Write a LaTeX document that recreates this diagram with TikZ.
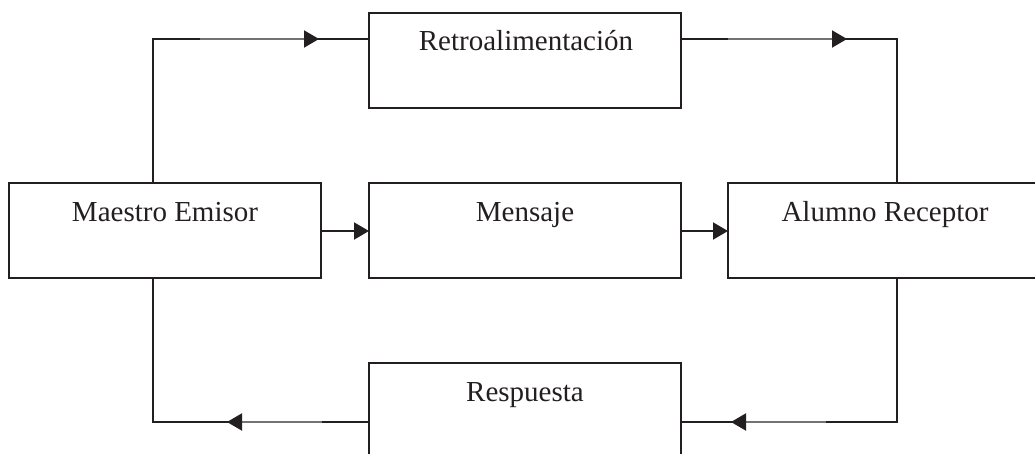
\documentclass[tikz,border=0pt]{standalone}
\usepackage{fontspec}
\setmainfont{Liberation Serif}
\usetikzlibrary{arrows.meta,calc}
\definecolor{ink}{RGB}{35,31,32}
\begin{document}
\begin{tikzpicture}[x=1pt,y=-1pt,
  box/.style={draw=ink, line width=2.2pt, minimum width=312pt, minimum height=95pt, inner sep=0pt, outer sep=0pt},
  lab/.style={font=\fontsize{29}{34}\selectfont, text=ink, anchor=base, inner sep=0pt},
  conn/.style={line width=2pt, draw=ink},
  tip/.style={-{Triangle[length=15pt,width=17pt]}},
  glint/.style={line width=2.2pt, draw=black!55}]
\useasboundingbox (0,0) rectangle (1035,454);
\clip (0,0) rectangle (1035,454);
% boxes
\node[box] (retro) at (525,60.5) {};
\node[box] (me)    at (165,230.5) {};
\node[box] (msg)   at (525,230.5) {};
\node[box] (al)    at (884,230.5) {};
\node[box] (resp)  at (525,410.5) {};
% labels
\node[lab] (tretro) at (526,51) {Retroalimentación};
\node[lab] (tme)    at (165,222) {Maestro Emisor};
\node[lab] (tmsg)   at (525,222) {Mensaje};
\node[lab] (tal)    at (885,222) {Alumno Receptor};
\node[lab] (tresp)  at (525,401) {Respuesta};
% corner / tip coordinates
\coordinate (tl) at (153,39);
\coordinate (tr) at (897,39);
\coordinate (bl) at (153,422);
\coordinate (br) at (897,422);
\coordinate (a1) at (319,39);
\coordinate (a2) at (847,39);
\coordinate (a3) at (731,422);
\coordinate (a4) at (227,422);
\coordinate (my) at (0,231);
% top-left feedback
\draw[conn] (me.north -| tl) -- (tl) -- (a1);
\draw[glint] (200,39) -- (306,39);
\draw[conn,tip] ($(a1)+(-1,0)$) -- (a1);
\draw[conn] (a1) -- (retro.west |- tl);
% top-right
\draw[conn] (retro.east |- tr) -- (a2);
\draw[glint] (728,39) -- (833,39);
\draw[conn,tip] ($(a2)+(-1,0)$) -- (a2);
\draw[conn] (a2) -- (tr) -- (al.north -| tr);
% middle
\draw[conn,tip] (me.east |- my) -- (msg.west |- my);
\draw[conn,tip] (msg.east |- my) -- (al.west |- my);
% bottom-right
\draw[conn] (al.south -| br) -- (br) -- (a3);
\draw[glint] (826,422) -- (744,422);
\draw[conn,tip] ($(a3)+(1,0)$) -- (a3);
\draw[conn] (a3) -- (resp.east |- br);
% bottom-left
\draw[conn] (resp.west |- bl) -- (a4);
\draw[glint] (322,422) -- (240,422);
\draw[conn,tip] ($(a4)+(1,0)$) -- (a4);
\draw[conn] (a4) -- (bl) -- (me.south -| bl);
\end{tikzpicture}
\end{document}
